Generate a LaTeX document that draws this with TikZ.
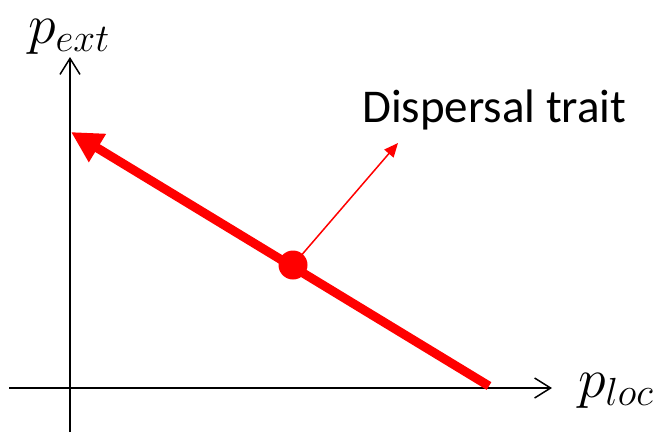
\RequirePackage{fix-cm}
\documentclass[tikz,border=0pt]{standalone}
\usepackage{fontspec}
\newfontfamily\labelfont{Carlito}
\usetikzlibrary{arrows.meta}
\begin{document}
\begin{tikzpicture}[x=1pt,y=-1pt,
  axis/.style={line width=1.5pt,-{Straight Barb[length=16pt,width=20pt,line width=1.5pt]}},
  bigarrow/.style={red,line width=9pt,-{Triangle[length=31pt,width=31pt]}},
  thinarrow/.style={red,line width=1.5pt,-{Triangle[length=14pt,width=12pt]}},
  lbl/.style={inner sep=0pt,anchor=base west}]
\useasboundingbox (0,0) rectangle (658,432);
\coordinate (xs) at (9,388);
\coordinate (xe) at (552,388);
\coordinate (ys) at (70,432);
\coordinate (ye) at (70,57);
\draw[axis] (xs) -- (xe);
\draw[axis] (ys) -- (ye);
\coordinate (ls) at (489,386);
\coordinate (le) at (71,132);
\draw[bigarrow] (ls) -- (le);
\node[circle,fill=red,minimum size=29pt,inner sep=0pt] (dot) at (293,265) {};
\coordinate (te) at (398,143);
\draw[thinarrow] (dot.center) -- (te);
\node[lbl] (dt) at (362,122) {\labelfont\fontsize{47}{50}\selectfont Dispersal trait};
\node[lbl] (pe) at (28,43) {\fontsize{56}{58}\selectfont $p_{ext}$};
\node[lbl] (pl) at (578,397) {\fontsize{56}{58}\selectfont $p_{loc}$};
\end{tikzpicture}
\end{document}
